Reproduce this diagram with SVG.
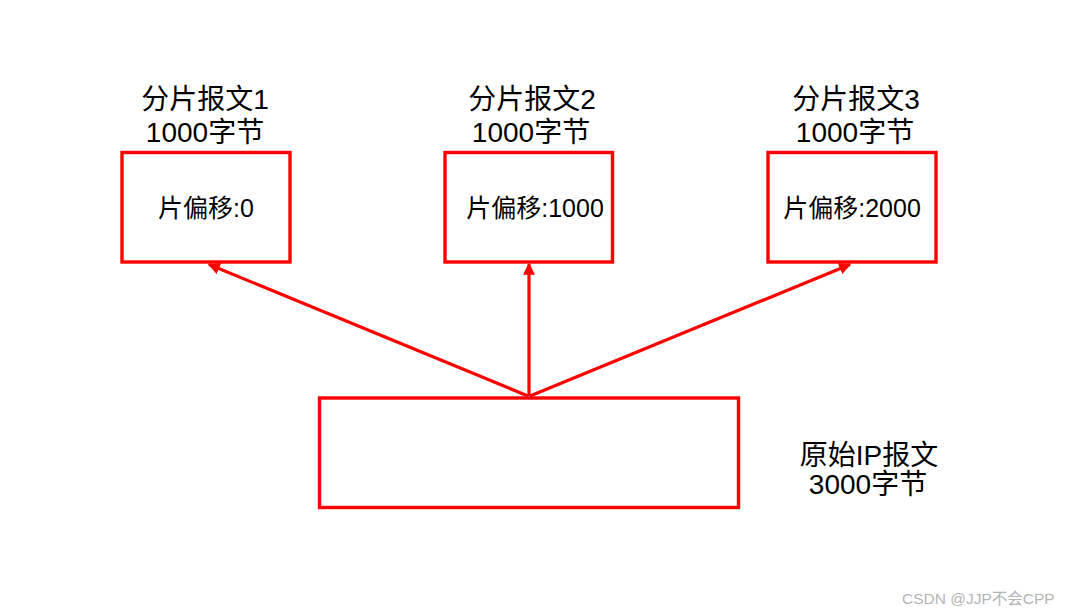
<svg xmlns="http://www.w3.org/2000/svg" width="1072" height="616" viewBox="0 0 1072 616">
<style>
.box{fill:#fff;stroke:#ff0000;stroke-width:3.4}
.t{font-family:"Liberation Sans","Noto Sans CJK SC",sans-serif;fill:#000;text-anchor:middle}
.title{font-size:28px}
.lab{font-size:25px}
.conn{stroke:#ff0000;stroke-width:3.2;fill:none;marker-end:url(#ah)}
.wm{font-family:"Liberation Sans","Noto Sans CJK SC",sans-serif;font-size:15.5px;fill:#b4b4b4}
</style>
<defs>
<marker id="ah" markerWidth="12" markerHeight="12" viewBox="0 0 10 10" refX="9" refY="5" orient="auto" markerUnits="userSpaceOnUse">
<path d="M0,0 L10,5 L0,10 z" fill="#ff0000"/>
</marker>
</defs>
<rect width="1072" height="616" fill="#fff"/>
<g id="connectors">
<line class="conn" x1="528" y1="396" x2="209" y2="264.5"/>
<line class="conn" x1="529" y1="396" x2="529" y2="264"/>
<line class="conn" x1="530" y1="396" x2="850" y2="264.5"/>
</g>
<g id="frag1">
<text class="t title" x="205" y="109">分片报文1</text>
<text class="t title" x="205" y="142">1000字节</text>
<rect class="box" x="122" y="152.5" width="168" height="109.5"/>
<text class="t lab" x="206" y="217">片偏移:0</text>
</g>
<g id="frag2">
<text class="t title" x="532" y="109">分片报文2</text>
<text class="t title" x="531" y="142">1000字节</text>
<rect class="box" x="445" y="152.5" width="167.5" height="109.5"/>
<text class="t lab" x="535" y="217">片偏移:1000</text>
</g>
<g id="frag3">
<text class="t title" x="856" y="109">分片报文3</text>
<text class="t title" x="855" y="142">1000字节</text>
<rect class="box" x="768" y="152.5" width="168" height="109.5"/>
<text class="t lab" x="852" y="217">片偏移:2000</text>
</g>
<g id="original">
<rect class="box" x="319.5" y="398" width="419" height="109.5"/>
<text class="t title" x="869" y="465">原始IP报文</text>
<text class="t title" x="868" y="494">3000字节</text>
</g>
<text class="wm" x="902" y="604">CSDN @JJP不会CPP</text>
</svg>
